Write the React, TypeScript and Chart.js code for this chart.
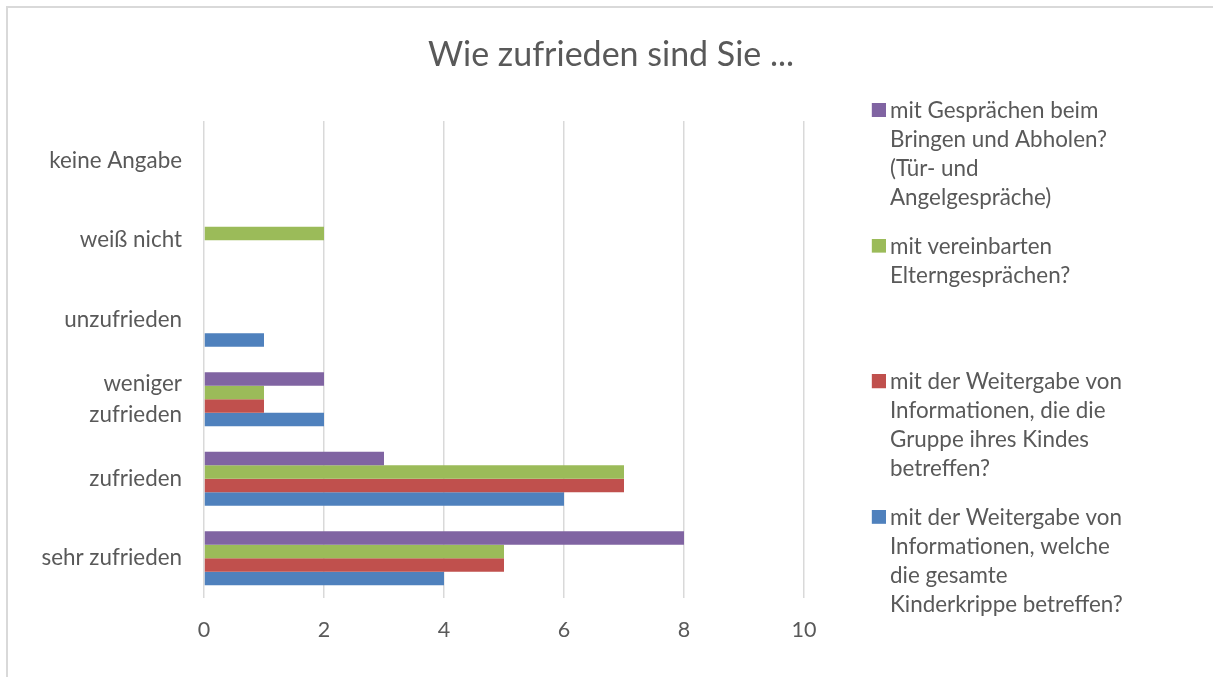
import React, { useEffect, useRef } from "react";
import { Chart, registerables } from "chart.js";

Chart.register(...registerables);

// Categories listed top to bottom as shown on the chart
const categories: (string | string[])[] = [
  "keine Angabe",
  "weiß nicht",
  "unzufrieden",
  ["weniger", "zufrieden"],
  "zufrieden",
  "sehr zufrieden",
];

// Series names (legend text, line by line)
const nameTuerAngel = ["mit Gesprächen beim", "Bringen und Abholen?", "(Tür- und", "Angelgespräche)"];
const nameEltern = ["mit vereinbarten", "Elterngesprächen?"];
const nameGruppe = ["mit der Weitergabe von", "Informationen, die die", "Gruppe ihres Kindes", "betreffen?"];
const nameGesamt = ["mit der Weitergabe von", "Informationen, welche", "die gesamte", "Kinderkrippe betreffen?"];

// Values per category (same order as categories)
const valuesTuerAngel = [0, 0, 0, 2, 3, 8];
const valuesEltern = [0, 2, 0, 1, 7, 5];
const valuesGruppe = [0, 0, 0, 1, 7, 5];
const valuesGesamt = [0, 0, 1, 2, 6, 4];

const xTicks = [0, 2, 4, 6, 8, 10];
const title = "Wie zufrieden sind Sie ...";

const COLORS = {
  purple: "#8064A2",
  green: "#9BBB59",
  red: "#C0504D",
  blue: "#4F81BD",
};
const TEXT = "#595959";
const FONT = "Lato, 'Open Sans', sans-serif";

const CANVAS_W = 1222;
const CANVAS_H = 677;

const padLines = (lines: string[], n: number) => {
  const out = lines.slice();
  while (out.length < n) out.push("");
  return out;
};

// Legend swatch: a 14x14 square placed slightly to the right of the default box slot
const makeSwatch = (color: string) => {
  const c = document.createElement("canvas");
  c.width = 27;
  c.height = 16;
  const ctx = c.getContext("2d");
  if (ctx) {
    ctx.fillStyle = color;
    ctx.fillRect(13, 0, 14, 14);
  }
  return c;
};

export default function App() {
  const ref = useRef<HTMLCanvasElement | null>(null);

  useEffect(() => {
    if (!ref.current) return;
    const maxLines = 4;
    const chart = new Chart(ref.current, {
      type: "bar",
      data: {
        labels: categories,
        datasets: [
          { label: padLines(nameTuerAngel, maxLines) as any, data: valuesTuerAngel, backgroundColor: COLORS.purple },
          { label: padLines(nameEltern, maxLines) as any, data: valuesEltern, backgroundColor: COLORS.green },
          { label: padLines(nameGruppe, maxLines) as any, data: valuesGruppe, backgroundColor: COLORS.red },
          { label: padLines(nameGesamt, maxLines) as any, data: valuesGesamt, backgroundColor: COLORS.blue },
        ].map((d) => ({
          ...d,
          xAxisID: "x",
          yAxisID: "y",
          borderWidth: 0,
          categoryPercentage: 0.68,
          barPercentage: 1,
        })),
      },
      options: {
        indexAxis: "y",
        responsive: false,
        animation: false,
        layout: { padding: { left: 0, right: 0, top: 0, bottom: 34.8 } },
        scales: {
          x: {
            type: "linear",
            min: xTicks[0],
            max: xTicks[xTicks.length - 1],
            ticks: {
              stepSize: xTicks[1] - xTicks[0],
              color: TEXT,
              font: { family: FONT, size: 21.5, lineHeight: 1.2 },
              padding: 19,
            },
            grid: { color: "#d9d9d9", lineWidth: 1.5, drawTicks: false },
            border: { display: false },
            afterFit: (s: any) => {
              s.height = 44.2;
            },
          },
          y: {
            type: "category",
            grid: { display: false, drawTicks: false },
            border: { display: false },
            ticks: {
              color: TEXT,
              font: { family: FONT, size: 22.4, lineHeight: 1.35 },
              padding: 22,
            },
            afterFit: (s: any) => {
              s.width = 204;
            },
          },
          yPad: {
            axis: "y",
            type: "linear",
            position: "right",
            weight: 0,
            display: true,
            grid: { display: false, drawTicks: false },
            ticks: { display: false },
            border: { display: false },
            afterFit: (s: any) => {
              s.width = 41.8;
            },
          },
          yPadOuter: {
            axis: "y",
            type: "linear",
            position: "right",
            weight: 2000,
            display: true,
            grid: { display: false, drawTicks: false },
            ticks: { display: false },
            border: { display: false },
            afterFit: (s: any) => {
              const lw = s.chart.legend ? s.chart.legend.width : 0;
              s.width = Math.max(0, CANVAS_W - 804 - 41.8 - lw);
            },
          },
        } as any,
        plugins: {
          title: {
            display: true,
            text: title,
            color: TEXT,
            font: { family: FONT, size: 34, weight: "normal", lineHeight: 1.2 },
            padding: { top: 34.4, bottom: 45.8 },
          },
          legend: {
            position: "right",
            align: "end",
            maxWidth: 500,
            labels: {
              boxWidth: 13,
              boxHeight: 14,
              padding: 20,
              color: TEXT,
              usePointStyle: true,
              font: { family: FONT, size: 22.4, lineHeight: "28.9px" as any },
              generateLabels: (ch: any) => {
                const items = (Chart.defaults.plugins.legend.labels as any).generateLabels(ch);
                return items.map((it: any) => ({
                  ...it,
                  pointStyle: makeSwatch(ch.data.datasets[it.datasetIndex].backgroundColor as string),
                  lineWidth: 0,
                }));
              },
            },
          },
          tooltip: { enabled: false },
        },
      },
    });
    return () => chart.destroy();
  }, []);

  return (
    <div
      style={{
        position: "fixed",
        left: 0,
        top: 0,
        width: 1213,
        height: 677,
        overflow: "hidden",
        background: "#ffffff",
      }}
    >
      <canvas
        ref={ref}
        width={CANVAS_W}
        height={CANVAS_H}
        style={{ position: "absolute", left: 0, top: 0, width: CANVAS_W, height: CANVAS_H }}
      />
      <div
        style={{
          position: "absolute",
          left: 6,
          top: 6,
          width: 1240,
          height: 700,
          border: "2px solid #d9d9d9",
          pointerEvents: "none",
        }}
      />
    </div>
  );
}
